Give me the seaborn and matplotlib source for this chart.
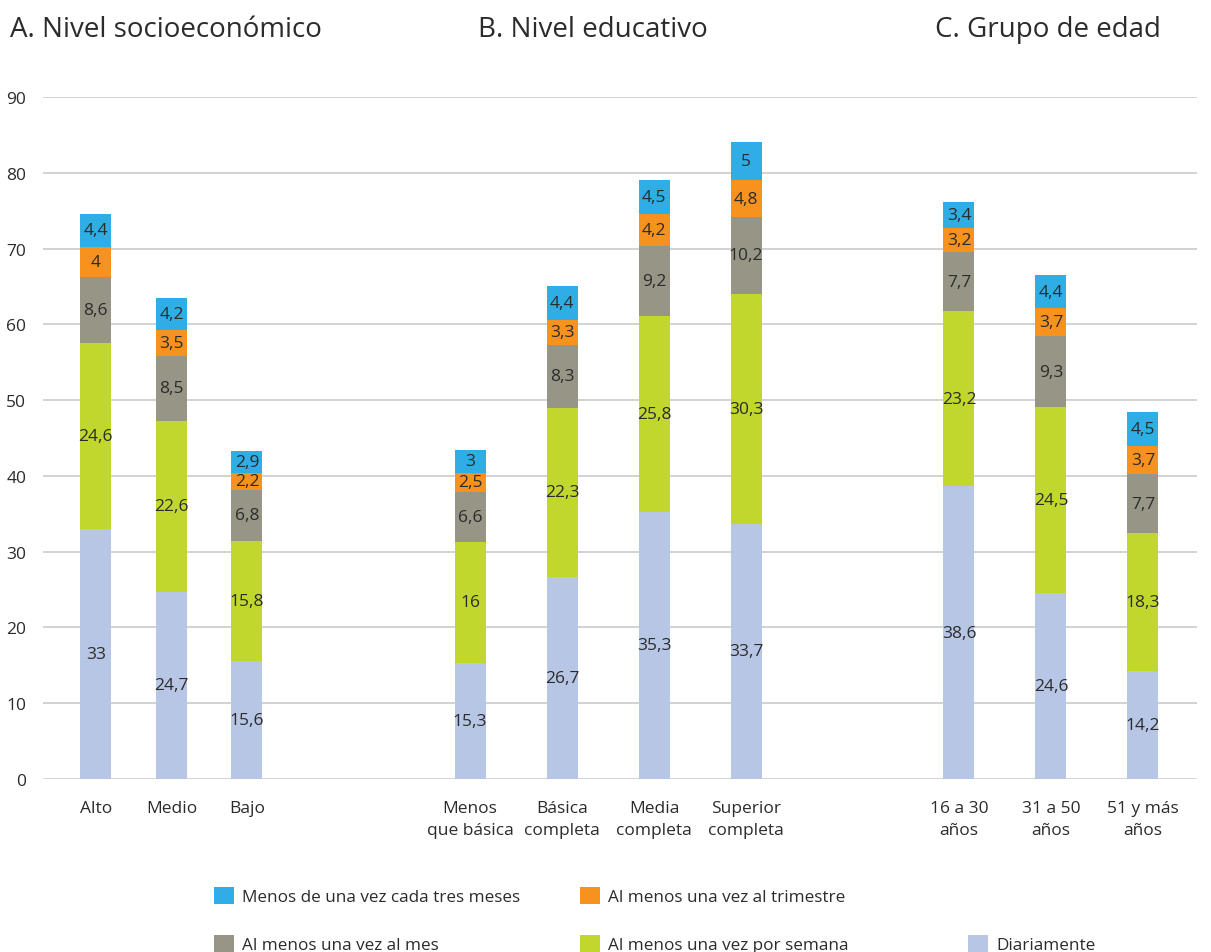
import numpy as np
import pandas as pd
import matplotlib
matplotlib.use("Agg")
import matplotlib.pyplot as plt
from matplotlib.patches import Patch
import seaborn as sns

# ---------------- data ----------------
series = ["Diariamente", "Al menos una vez por semana", "Al menos una vez al mes",
          "Al menos una vez al trimestre", "Menos de una vez cada tres meses"]
colors = ["#B8C6E5", "#C1D72E", "#979585", "#F7921E", "#2EAEE4"]

titles = ["A. Nivel socioeconómico", "B. Nivel educativo", "C. Grupo de edad"]

cats_a = ["Alto", "Medio", "Bajo"]
diar_a = [33, 24.7, 15.6]
sem_a = [24.6, 22.6, 15.8]
mes_a = [8.6, 8.5, 6.8]
trim_a = [4, 3.5, 2.2]
menos_a = [4.4, 4.2, 2.9]

cats_b = ["Menos\nque básica", "Básica\ncompleta", "Media\ncompleta", "Superior\ncompleta"]
diar_b = [15.3, 26.7, 35.3, 33.7]
sem_b = [16, 22.3, 25.8, 30.3]
mes_b = [6.6, 8.3, 9.2, 10.2]
trim_b = [2.5, 3.3, 4.2, 4.8]
menos_b = [3, 4.4, 4.5, 5]

cats_c = ["16 a 30\naños", "31 a 50\naños", "51 y más\naños"]
diar_c = [38.6, 24.6, 14.2]
sem_c = [23.2, 24.5, 18.3]
mes_c = [7.7, 9.3, 7.7]
trim_c = [3.2, 3.7, 3.7]
menos_c = [3.4, 4.4, 4.5]

panels = [
    (cats_a, [diar_a, sem_a, mes_a, trim_a, menos_a]),
    (cats_b, [diar_b, sem_b, mes_b, trim_b, menos_b]),
    (cats_c, [diar_c, sem_c, mes_c, trim_c, menos_c]),
]

# ---------------- style ----------------
sns.set_theme(style="white")
plt.rcParams["font.family"] = ["Open Sans", "DejaVu Sans"]
txt = "#2B2B2B"

W, H = 1211, 953
fig = plt.figure(figsize=(W / 100, H / 100), dpi=100)

# layout in pixels
y_top, y_bot = 98, 780
bounds = [43, 360, 852, 1197]
xlims = [(-0.70, 3.497), (-1.196, 4.152), (-1.163, 2.587)]
widths = [0.41, 0.337, 0.337]
title_x = [10, 478, 935]

def fmt(v):
    return f"{v:g}".replace(".", ",")

for i, (cats, layers) in enumerate(panels):
    x0, x1 = bounds[i], bounds[i + 1]
    ax = fig.add_axes([x0 / W, 1 - y_bot / H, (x1 - x0) / W, (y_bot - y_top) / H])
    arr = np.array(layers, dtype=float)
    cum = np.cumsum(arr, axis=0)
    # draw from the top layer down so lower layers overlay
    for k in range(len(series) - 1, -1, -1):
        df = pd.DataFrame({"cat": cats, "val": cum[k]})
        sns.barplot(data=df, x="cat", y="val", order=cats, color=colors[k],
                    saturation=1, width=widths[i], linewidth=0, ax=ax, zorder=3)
    # labels
    for k in range(len(series)):
        for j in range(len(cats)):
            v = arr[k, j]
            ax.text(j, cum[k, j] - v / 2, fmt(v), ha="center", va="center",
                    fontsize=12.5, color=txt, zorder=5)
    ax.set_xlim(*xlims[i])
    ax.set_ylim(0, 90)
    ax.set_yticks(np.arange(0, 91, 10))
    ax.grid(axis="y", color="#CFCFCF", linewidth=1.3, zorder=0)
    ax.set_axisbelow(True)
    for s in ax.spines.values():
        s.set_visible(False)
    ax.set_xlabel("")
    ax.set_ylabel("")
    ax.tick_params(axis="x", length=0, pad=15, labelsize=12.5, labelcolor=txt)
    ax.tick_params(axis="y", length=0, pad=12, labelsize=12.5, labelcolor=txt)
    for lbl in ax.get_xticklabels():
        lbl.set_linespacing(1.5)
    if i > 0:
        ax.tick_params(axis="y", labelleft=False)
    fig.text(title_x[i] / W, 1 - 37 / H, titles[i], fontsize=20, color=txt,
             ha="left", va="baseline")

# ---------------- legend ----------------
def handle(k):
    return Patch(facecolor=colors[k], edgecolor="none")

blank = Patch(facecolor="none", edgecolor="none")
leg_cols = [
    ([handle(4), handle(2)], [series[4], series[2]], 214),
    ([handle(3), handle(1)], [series[3], series[1]], 580),
    ([blank, handle(0)], ["", series[0]], 968),
]
for hs, ls, xpx in leg_cols:
    fig.legend(hs, ls, loc="upper left", bbox_to_anchor=(xpx / W, 1 - 888 / H),
               ncol=1, frameon=False, fontsize=12.3, labelcolor=txt,
               handlelength=1.15, handleheight=1.15, handletextpad=0.5,
               labelspacing=1.72, borderpad=0, borderaxespad=0)

fig.savefig("out.png", dpi=100)
